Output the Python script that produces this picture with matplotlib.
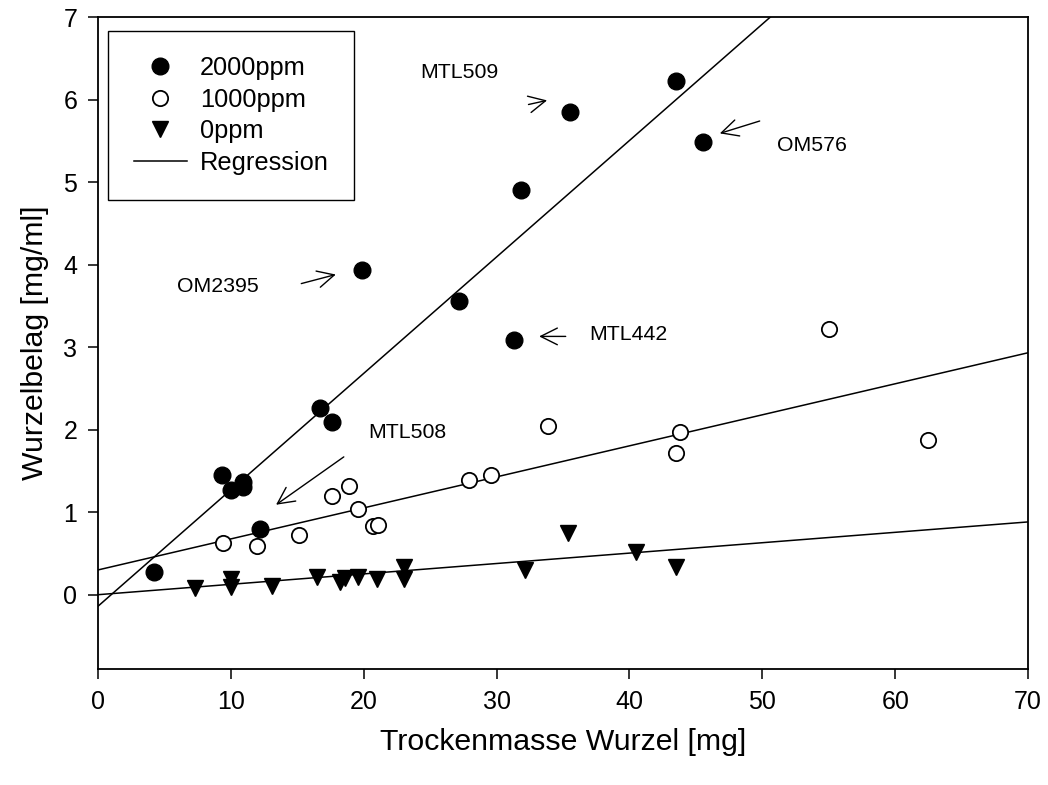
import matplotlib
matplotlib.use("Agg")
import matplotlib.pyplot as plt
import numpy as np

plt.rcParams['font.family'] = ['Liberation Sans', 'DejaVu Sans']

# 2000ppm (gefuellte Kreise)
x_2000 = [4.2, 9.3, 10.0, 10.9, 10.9, 12.2, 16.7, 17.6, 19.9, 27.2, 31.3, 31.8, 35.5, 43.5, 45.5]
y_2000 = [0.27, 1.45, 1.27, 1.30, 1.36, 0.80, 2.26, 2.09, 3.93, 3.56, 3.09, 4.90, 5.85, 6.22, 5.49]

# 1000ppm (offene Kreise)
x_1000 = [9.4, 12.0, 15.1, 17.6, 18.9, 19.6, 20.7, 21.1, 27.9, 29.6, 33.9, 43.8, 43.5, 55.0, 62.5]
y_1000 = [0.63, 0.59, 0.72, 1.20, 1.32, 1.04, 0.83, 0.85, 1.39, 1.45, 2.04, 1.97, 1.72, 3.22, 1.88]

# 0ppm (Dreiecke)
x_0 = [7.3, 10.0, 10.0, 13.1, 16.5, 18.2, 18.6, 19.6, 21.0, 23.0, 23.0, 32.1, 35.4, 40.5, 43.5]
y_0 = [0.08, 0.19, 0.09, 0.11, 0.22, 0.16, 0.20, 0.22, 0.19, 0.34, 0.19, 0.30, 0.75, 0.52, 0.34]

# Regressionsgeraden (Achsenabschnitt, Steigung)
reg_2000 = (-0.14, 0.1411)
reg_1000 = (0.30, 0.0376)
reg_0 = (0.0, 0.0126)

# Beschriftungen: Text, Textposition, Pfeilanfang, Pfeilspitze
labels = [
    ("MTL509", (27.2, 6.33), (32.4, 5.94), (33.8, 5.99)),
    ("OM576", (53.7, 5.44), (49.8, 5.74), (46.8, 5.59)),
    ("OM2395", (9.0, 3.74), (15.3, 3.77), (17.9, 3.88)),
    ("MTL442", (39.9, 3.15), (35.2, 3.13), (33.2, 3.13)),
    ("MTL508", (23.3, 1.97), (18.5, 1.67), (13.4, 1.09)),
]

fig = plt.figure(figsize=(10.48, 7.85), dpi=100)
ax = fig.add_axes([0.0935, 0.1478, 0.8875, 0.8305])

ax.plot(x_2000, y_2000, 'o', color='black', markersize=12, label='2000ppm', zorder=3)
ax.plot(x_1000, y_1000, 'o', markerfacecolor='white', markeredgecolor='black',
        markeredgewidth=1.3, markersize=11, label='1000ppm', zorder=3)
ax.plot(x_0, y_0, 'v', color='black', markersize=12, label='0ppm', zorder=3)

xx = np.array([0, 70])
for i, (b, m) in enumerate([reg_2000, reg_1000, reg_0]):
    ax.plot(xx, b + m * xx, '-', color='black', lw=1.1,
            label='Regression' if i == 0 else None, zorder=2)

for text, tpos, start, end in labels:
    ax.text(tpos[0], tpos[1], text, fontsize=15.3, ha='center', va='center')
    ax.annotate('', xy=end, xytext=start,
                arrowprops=dict(arrowstyle='->,head_length=0.6,head_width=0.3',
                                color='black', lw=1.0, mutation_scale=20,
                                shrinkA=0, shrinkB=0))

ax.set_xlim(0, 70)
ax.set_ylim(-0.9, 7)
ax.set_xticks(range(0, 71, 10))
ax.set_yticks(range(0, 8))
ax.tick_params(direction='out', length=7, width=1.1, labelsize=18, pad=8)
for s in ax.spines.values():
    s.set_linewidth(1.3)

ax.set_xlabel('Trockenmasse Wurzel [mg]', fontsize=21.8, labelpad=10)
ax.set_ylabel('Wurzelbelag [mg/ml]', fontsize=21.8, labelpad=10)

leg = ax.legend(loc='upper left', bbox_to_anchor=(0.011, 0.979), borderaxespad=0,
                fontsize=18.3, handlelength=2.1, handletextpad=0.5, labelspacing=0.3,
                borderpad=1.0, fancybox=False, framealpha=1, edgecolor='black')
leg.get_frame().set_linewidth(1.0)

fig.savefig('out.png', dpi=100)
